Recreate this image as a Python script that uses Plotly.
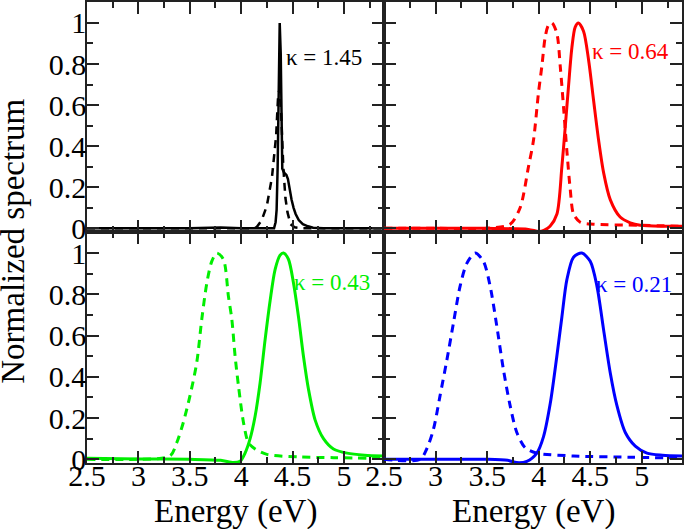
import plotly.graph_objects as go
from plotly.subplots import make_subplots

# ---- data ----
k_labels = ["κ = 1.45", "κ = 0.64", "κ = 0.43", "κ = 0.21"]
colors = ["#000000", "#ff0000", "#00ee00", "#0000ff"]

black_solid_x = [2.5, 3.0, 3.5, 3.8, 4.0, 4.2, 4.30, 4.32, 4.335, 4.345, 4.355, 4.365, 4.375, 4.385, 4.392,
                 4.40, 4.42, 4.44, 4.455, 4.47, 4.49, 4.51, 4.53, 4.56, 4.60, 4.65, 4.70, 4.80, 5.00, 5.39]
black_solid_y = [0, 0, 0, 0.004, 0, 0, 0.002, 0.0, 0.03, 0.09, 0.3, 0.75, 1.0, 0.85, 0.45,
                 0.29, 0.27, 0.26, 0.24, 0.19, 0.14, 0.10, 0.07, 0.04, 0.02, 0.01, 0.003, 0, 0, 0]
black_dash_x = [2.5, 3.5, 4.1, 4.15, 4.20, 4.25, 4.30, 4.34, 4.36, 4.375, 4.39, 4.41, 4.43, 4.45, 4.48, 4.52, 4.6, 5.39]
black_dash_y = [0, 0, 0, 0.005, 0.04, 0.11, 0.25, 0.45, 0.65, 0.68, 0.55, 0.3, 0.15, 0.08, 0.02, 0.005, 0, 0]

red_solid_x = [2.5, 3.0, 3.5, 3.9, 4.0, 4.05, 4.11, 4.177, 4.225, 4.257, 4.289, 4.322, 4.354, 4.386,
               4.435, 4.484, 4.532, 4.581, 4.63, 4.694, 4.79, 4.888, 4.985, 5.2, 5.39]
red_solid_y = [0, 0, 0, -0.005, -0.015, -0.01, 0.01, 0.07, 0.30, 0.49, 0.69, 0.88, 0.98, 1.0,
               0.96, 0.82, 0.625, 0.43, 0.27, 0.14, 0.055, 0.027, 0.015, 0.01, 0.01]
red_dash_x = [2.5, 3.0, 3.5, 3.723, 3.82, 3.901, 3.95, 3.998, 4.031, 4.063, 4.095, 4.128, 4.176, 4.209,
              4.241, 4.273, 4.306, 4.338, 4.403, 4.53, 4.985, 5.39]
red_dash_y = [0, 0, 0, 0.02, 0.1, 0.3, 0.43, 0.66, 0.79, 0.93, 0.99, 1.0, 0.95, 0.79,
              0.59, 0.38, 0.19, 0.07, 0.03, 0.02, 0.015, 0.01]

green_solid_x = [2.5, 3.0, 3.5, 3.8, 3.925, 3.99, 4.038, 4.087, 4.136, 4.184, 4.233, 4.282, 4.33, 4.379, 4.412,
                 4.46, 4.509, 4.558, 4.606, 4.655, 4.72, 4.801, 4.898, 5.03, 5.2, 5.39]
green_solid_y = [0.005, 0.002, 0, -0.005, -0.016, -0.01, 0.03, 0.10, 0.21, 0.37, 0.58, 0.77, 0.92, 0.99, 1.0,
                 0.97, 0.855, 0.69, 0.50, 0.34, 0.19, 0.10, 0.05, 0.03, 0.02, 0.016]
green_dash_x = [2.5, 3.0, 3.308, 3.373, 3.438, 3.503, 3.568, 3.617, 3.666, 3.714, 3.763, 3.827, 3.876, 3.909,
                3.941, 3.974, 4.022, 4.071, 4.136, 4.25, 4.574, 4.9, 5.39]
green_dash_y = [0, 0, 0.016, 0.08, 0.18, 0.31, 0.47, 0.68, 0.855, 0.96, 1.0, 0.97, 0.79, 0.68,
                0.50, 0.355, 0.18, 0.08, 0.05, 0.024, 0.011, 0.008, 0.004]

blue_solid_x = [2.5, 3.0, 3.5, 3.7, 3.788, 3.885, 3.982, 4.047, 4.112, 4.176, 4.225, 4.273, 4.338, 4.419,
                4.5, 4.565, 4.629, 4.694, 4.759, 4.84, 4.937, 5.05, 5.2, 5.39]
blue_solid_y = [0, 0, 0, -0.005, -0.016, -0.01, 0.03, 0.11, 0.27, 0.50, 0.69, 0.87, 0.98, 1.0,
                0.96, 0.84, 0.63, 0.42, 0.26, 0.13, 0.064, 0.03, 0.02, 0.016]
blue_dash_x = [2.5, 2.85, 2.914, 2.979, 3.044, 3.109, 3.173, 3.238, 3.303, 3.383, 3.464, 3.529, 3.594,
               3.658, 3.723, 3.788, 3.869, 3.982, 4.338, 4.9, 5.39]
blue_dash_y = [0, 0, 0.05, 0.145, 0.31, 0.48, 0.66, 0.84, 0.95, 1.0, 0.96, 0.84, 0.645,
               0.435, 0.26, 0.13, 0.056, 0.03, 0.016, 0.01, 0.006]

solid_x = [black_solid_x, red_solid_x, green_solid_x, blue_solid_x]
solid_y = [black_solid_y, red_solid_y, green_solid_y, blue_solid_y]
dash_x = [black_dash_x, red_dash_x, green_dash_x, blue_dash_x]
dash_y = [black_dash_y, red_dash_y, green_dash_y, blue_dash_y]

x_range = [2.5, 5.39]
y_range = [-0.018, 1.102]
x_ticks = [2.5, 3, 3.5, 4, 4.5, 5]
y_ticks = [0, 0.2, 0.4, 0.6, 0.8, 1]

FONT = "Liberation Serif"

fig = make_subplots(rows=2, cols=2, horizontal_spacing=0, vertical_spacing=0)
positions = [(1, 1), (1, 2), (2, 1), (2, 2)]
for i, (r, c) in enumerate(positions):
    lw = 2.5 if i == 0 else 3
    shape = "linear" if i == 0 else "spline"
    fig.add_trace(go.Scatter(x=dash_x[i], y=dash_y[i], mode="lines",
                             line=dict(color=colors[i], width=lw, dash="8px,6px",
                                       shape=shape, smoothing=0.8),
                             showlegend=False), row=r, col=c)
    fig.add_trace(go.Scatter(x=solid_x[i], y=solid_y[i], mode="lines",
                             line=dict(color=colors[i], width=lw, shape=shape, smoothing=0.8),
                             showlegend=False), row=r, col=c)

xdom = [[0, 0.4992], [0.4992, 1]]
ydom = [[0.501, 1], [0, 0.501]]
axis_common = dict(showline=True, linecolor="#222", linewidth=1.5, mirror="allticks",
                   ticks="inside", ticklen=12, tickwidth=1.5, tickcolor="#222",
                   showgrid=False, zeroline=False, automargin=False,
                   tickfont=dict(family=FONT, size=30, color="black"))
for i, (r, c) in enumerate(positions):
    fig.update_xaxes(range=x_range, tickvals=x_ticks, domain=xdom[c - 1],
                     minor=dict(dtick=0.25, tick0=2.5, ticks="inside", ticklen=6,
                                tickwidth=1.5, tickcolor="#222"),
                     ticklabelstandoff=-15,
                     showticklabels=(r == 2), **axis_common, row=r, col=c)
    fig.update_yaxes(range=y_range, tickvals=y_ticks, domain=ydom[r - 1],
                     minor=dict(dtick=0.1, tick0=0, ticks="inside", ticklen=6,
                                tickwidth=1.5, tickcolor="#222"),
                     ticklabelstandoff=-7,
                     showticklabels=(c == 1), **axis_common, row=r, col=c)

# kappa labels: (xref, yref, x, y)
k_pos = [("x", "y", 4.42, 0.83), ("x2", "y2", 4.50, 0.86),
         ("x3", "y3", 4.49, 0.855), ("x4", "y4", 4.54, 0.85)]
for i, (xr, yr, xx, yy) in enumerate(k_pos):
    fig.add_annotation(text=k_labels[i], x=xx, y=yy, xref=xr, yref=yr,
                       xanchor="left", yanchor="middle", showarrow=False,
                       font=dict(family=FONT, size=23, color=colors[i]))

# axis titles
fig.add_annotation(text="Normalized spectrum", x=(13 - 87) / 595, y=0.48, xref="paper", yref="paper",
                   textangle=-90, showarrow=False, xanchor="center", yanchor="middle",
                   font=dict(family=FONT, size=33, color="black"))
for xc in [0.2496, 0.7496]:
    fig.add_annotation(text="Energy (eV)", x=xc, y=-49 / 461, xref="paper", yref="paper",
                       showarrow=False, xanchor="center", yanchor="middle",
                       font=dict(family=FONT, size=33, color="black"))

fig.update_layout(width=685, height=529, paper_bgcolor="white", plot_bgcolor="white",
                  margin=dict(l=87, r=3, t=2, b=66), showlegend=False)

fig.write_html("out.html", config={"displayModeBar": False},
               post_script="document.body.style.margin='0';")
